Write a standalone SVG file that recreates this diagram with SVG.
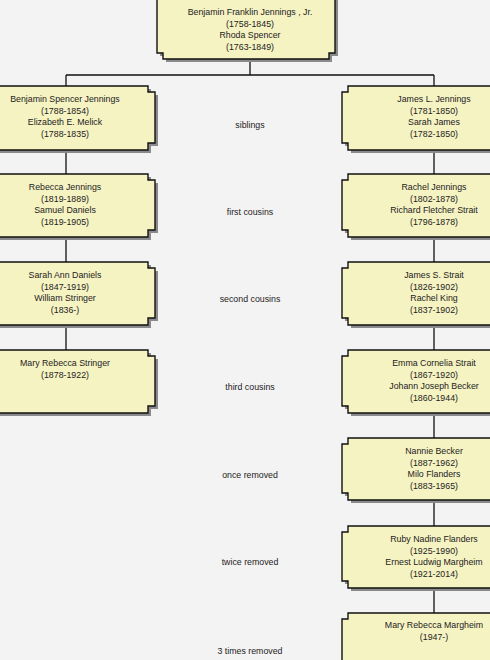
<svg xmlns="http://www.w3.org/2000/svg" width="490" height="660" viewBox="0 0 490 660">
<defs>
<style>
.bg{fill:#f4f3f3}
.box{fill:#f6f3c3;stroke:#111;stroke-width:1.4}
.sh{fill:#8a8a8a}
.t{font-family:"Liberation Sans",Arial,sans-serif;font-size:8.8px;fill:#222;text-anchor:middle}
.c{stroke:#111;stroke-width:1.3;fill:none}
</style>
</defs>
<rect class="bg" x="0" y="0" width="490" height="660"/>
<g id="connectors">
<path class="c" d="M250 59V75M66 75H434M66 75V86M434 75V86"/>
<path class="c" d="M66 150V174M66 237V262M66 325V350"/>
<path class="c" d="M434 150V174M434 237V262M434 325V350M434 413V438M434 500V526M434 588V613"/>
</g>
<g id="top">
<path class="sh" d="M163 -20H338V56H332V62H166V56H160Z"/>
<path class="box" d="M157 -20H335V53H329V59H163V53H157Z"/>
<text class="t" x="250" y="15">Benjamin Franklin Jennings , Jr.</text>
<text class="t" x="250" y="26.5">(1758-1845)</text>
<text class="t" x="250" y="38">Rhoda Spencer</text>
<text class="t" x="250" y="49.5">(1763-1849)</text>
</g>
<g id="L1">
<path class="sh" d="M-22 89H151V95H158V146H151V153H-22Z"/>
<path class="box" d="M-25 86H148V92H155V143H148V150H-25Z"/>
<text class="t" x="65" y="102">Benjamin Spencer Jennings</text>
<text class="t" x="65" y="113.5">(1788-1854)</text>
<text class="t" x="65" y="125">Elizabeth E. Melick</text>
<text class="t" x="65" y="136.5">(1788-1835)</text>
</g>
<g id="L2">
<path class="sh" d="M-22 177H151V183H158V233H151V240H-22Z"/>
<path class="box" d="M-25 174H148V180H155V230H148V237H-25Z"/>
<text class="t" x="65" y="190">Rebecca Jennings</text>
<text class="t" x="65" y="201.5">(1819-1889)</text>
<text class="t" x="65" y="213">Samuel Daniels</text>
<text class="t" x="65" y="224.5">(1819-1905)</text>
</g>
<g id="L3">
<path class="sh" d="M-22 265H151V271H158V321H151V328H-22Z"/>
<path class="box" d="M-25 262H148V268H155V318H148V325H-25Z"/>
<text class="t" x="65" y="278">Sarah Ann Daniels</text>
<text class="t" x="65" y="289.5">(1847-1919)</text>
<text class="t" x="65" y="301">William Stringer</text>
<text class="t" x="65" y="312.5">(1836-)</text>
</g>
<g id="L4">
<path class="sh" d="M-22 353H151V359H158V409H151V416H-22Z"/>
<path class="box" d="M-25 350H148V356H155V406H148V413H-25Z"/>
<text class="t" x="65" y="366">Mary Rebecca Stringer</text>
<text class="t" x="65" y="377.5">(1878-1922)</text>
</g>
<g id="R1">
<path class="sh" d="M351 89H529V153H351V146H345V95H351Z"/>
<path class="box" d="M348 86H526V150H348V143H342V92H348Z"/>
<text class="t" x="434" y="102">James L. Jennings</text>
<text class="t" x="434" y="113.5">(1781-1850)</text>
<text class="t" x="434" y="125">Sarah James</text>
<text class="t" x="434" y="136.5">(1782-1850)</text>
</g>
<g id="R2">
<path class="sh" d="M351 177H529V240H351V233H345V183H351Z"/>
<path class="box" d="M348 174H526V237H348V230H342V180H348Z"/>
<text class="t" x="434" y="190">Rachel Jennings</text>
<text class="t" x="434" y="201.5">(1802-1878)</text>
<text class="t" x="434" y="213">Richard Fletcher Strait</text>
<text class="t" x="434" y="224.5">(1796-1878)</text>
</g>
<g id="R3">
<path class="sh" d="M351 265H529V328H351V321H345V271H351Z"/>
<path class="box" d="M348 262H526V325H348V318H342V268H348Z"/>
<text class="t" x="434" y="278">James S. Strait</text>
<text class="t" x="434" y="289.5">(1826-1902)</text>
<text class="t" x="434" y="301">Rachel King</text>
<text class="t" x="434" y="312.5">(1837-1902)</text>
</g>
<g id="R4">
<path class="sh" d="M351 353H529V416H351V409H345V359H351Z"/>
<path class="box" d="M348 350H526V413H348V406H342V356H348Z"/>
<text class="t" x="434" y="366">Emma Cornelia Strait</text>
<text class="t" x="434" y="377.5">(1867-1920)</text>
<text class="t" x="434" y="389">Johann Joseph Becker</text>
<text class="t" x="434" y="400.5">(1860-1944)</text>
</g>
<g id="R5">
<path class="sh" d="M351 441H529V503H351V496H345V447H351Z"/>
<path class="box" d="M348 438H526V500H348V493H342V444H348Z"/>
<text class="t" x="434" y="454">Nannie Becker</text>
<text class="t" x="434" y="465.5">(1887-1962)</text>
<text class="t" x="434" y="477">Milo Flanders</text>
<text class="t" x="434" y="488.5">(1883-1965)</text>
</g>
<g id="R6">
<path class="sh" d="M351 529H529V591H351V584H345V535H351Z"/>
<path class="box" d="M348 526H526V588H348V581H342V532H348Z"/>
<text class="t" x="434" y="542">Ruby Nadine Flanders</text>
<text class="t" x="434" y="553.5">(1925-1990)</text>
<text class="t" x="434" y="565">Ernest Ludwig Margheim</text>
<text class="t" x="434" y="576.5">(1921-2014)</text>
</g>
<g id="R7">
<path class="box" d="M348 613H526V680H342V619H348Z"/>
<text class="t" x="434" y="628">Mary Rebecca Margheim</text>
<text class="t" x="434" y="639.5">(1947-)</text>
</g>
<g id="labels">
<text class="t" x="250" y="128">siblings</text>
<text class="t" x="250" y="215">first cousins</text>
<text class="t" x="250" y="302">second cousins</text>
<text class="t" x="250" y="390">third cousins</text>
<text class="t" x="250" y="478">once removed</text>
<text class="t" x="250" y="565">twice removed</text>
<text class="t" x="250" y="654">3 times removed</text>
</g>
</svg>
